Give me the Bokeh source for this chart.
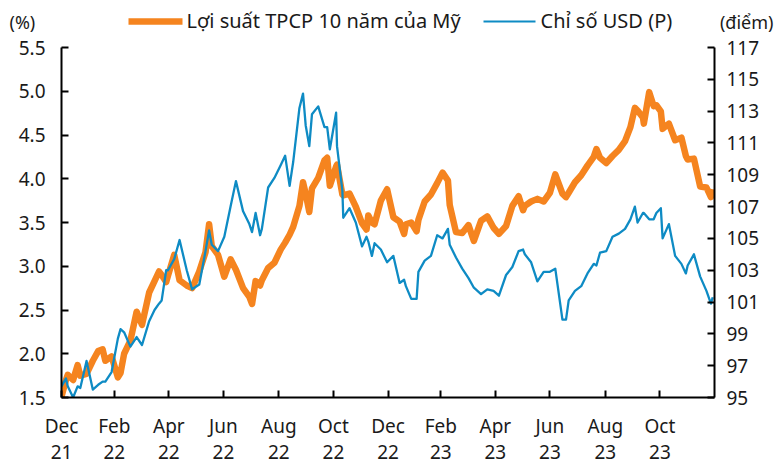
import pandas as pd
from bokeh.plotting import figure
from bokeh.layouts import column
from bokeh.models import Range1d, LinearAxis, FixedTicker, ColumnDataSource
from bokeh.core.properties import value
from bokeh.embed import file_html
from bokeh.resources import INLINE

dates = [
    "2021-12-31", "2022-01-05", "2022-01-07", "2022-01-13", "2022-01-18", "2022-01-21",
    "2022-01-28", "2022-02-04", "2022-02-10", "2022-02-15", "2022-02-18", "2022-02-25",
    "2022-03-04", "2022-03-07", "2022-03-11", "2022-03-18", "2022-03-25", "2022-03-31",
    "2022-04-08", "2022-04-14", "2022-04-19", "2022-04-22", "2022-04-27", "2022-04-29",
    "2022-05-06", "2022-05-12", "2022-05-20", "2022-05-26", "2022-06-03", "2022-06-10",
    "2022-06-14", "2022-06-17", "2022-06-24", "2022-07-01", "2022-07-08", "2022-07-14",
    "2022-07-22", "2022-07-29", "2022-08-01", "2022-08-05", "2022-08-10", "2022-08-12",
    "2022-08-19", "2022-08-26", "2022-09-02", "2022-09-07", "2022-09-12", "2022-09-16",
    "2022-09-23", "2022-09-27", "2022-09-30", "2022-10-04", "2022-10-07", "2022-10-14",
    "2022-10-21", "2022-10-24", "2022-10-27", "2022-11-03", "2022-11-04", "2022-11-10",
    "2022-11-11", "2022-11-18", "2022-11-25", "2022-12-02", "2022-12-07", "2022-12-09",
    "2022-12-13", "2022-12-16", "2022-12-23", "2022-12-30", "2023-01-06", "2023-01-13",
    "2023-01-18", "2023-01-20", "2023-01-26", "2023-02-01", "2023-02-03", "2023-02-10",
    "2023-02-17", "2023-02-24", "2023-03-02", "2023-03-08", "2023-03-10", "2023-03-17",
    "2023-03-24", "2023-03-31", "2023-04-06", "2023-04-14", "2023-04-21", "2023-04-28",
    "2023-05-04", "2023-05-12", "2023-05-19", "2023-05-26", "2023-05-31", "2023-06-02",
    "2023-06-09", "2023-06-16", "2023-06-23", "2023-06-30", "2023-07-06", "2023-07-14",
    "2023-07-18", "2023-07-21", "2023-07-28", "2023-08-04", "2023-08-11", "2023-08-18",
    "2023-08-21", "2023-08-25", "2023-09-01", "2023-09-08", "2023-09-15", "2023-09-22",
    "2023-09-28", "2023-10-03", "2023-10-06", "2023-10-12", "2023-10-13", "2023-10-19",
    "2023-10-24", "2023-10-27", "2023-11-01", "2023-11-03", "2023-11-10", "2023-11-17",
    "2023-11-24", "2023-11-29", "2023-12-01", "2023-12-08", "2023-12-15", "2023-12-22",
    "2023-12-27", "2023-12-29",
]

yield_10y = [
    1.51, 1.70, 1.76, 1.70, 1.87, 1.75,
    1.77, 1.92, 2.03, 2.05, 1.92, 1.97,
    1.73, 1.78, 2.00, 2.15, 2.48, 2.33,
    2.70, 2.83, 2.94, 2.90, 2.82, 2.89,
    3.13, 2.84, 2.78, 2.75, 2.94, 3.16,
    3.48, 3.23, 3.13, 2.88, 3.08, 2.96,
    2.75, 2.65, 2.57, 2.83, 2.78, 2.84,
    2.98, 3.04, 3.19, 3.27, 3.36, 3.45,
    3.69, 3.96, 3.83, 3.62, 3.89, 4.01,
    4.21, 4.24, 3.92, 4.14, 4.16, 3.82,
    3.81, 3.83, 3.68, 3.49, 3.42, 3.58,
    3.50, 3.48, 3.75, 3.88, 3.56, 3.51,
    3.37, 3.48, 3.50, 3.40, 3.53, 3.74,
    3.82, 3.95, 4.07, 3.98, 3.70, 3.39,
    3.38, 3.47, 3.29, 3.52, 3.57, 3.44,
    3.37, 3.46, 3.69, 3.80, 3.64, 3.69,
    3.74, 3.77, 3.74, 3.84, 4.05, 3.83,
    3.79, 3.84, 3.96, 4.04, 4.15, 4.25,
    4.34, 4.24, 4.18, 4.26, 4.33, 4.43,
    4.59, 4.81, 4.78, 4.70, 4.63, 4.99,
    4.83, 4.84, 4.77, 4.57, 4.63, 4.44,
    4.47, 4.26, 4.22, 4.23, 3.91, 3.90,
    3.79, 3.88,
]

usd_index = [
    95.7, 96.2, 95.7, 95.0, 95.7, 95.6,
    97.3, 95.5, 95.8, 96.0, 96.0, 96.6,
    98.7, 99.3, 99.1, 98.2, 98.8, 98.3,
    99.8, 100.5, 100.9, 101.1, 103.0, 103.0,
    103.7, 104.9, 103.0, 101.8, 102.1, 104.2,
    105.5, 104.6, 104.2, 105.1, 107.0, 108.6,
    106.7, 105.9, 105.4, 106.6, 105.2, 105.6,
    108.2, 108.8, 109.6, 110.2, 108.3, 109.8,
    113.2, 114.1, 112.1, 110.8, 112.8, 113.3,
    112.0, 112.0, 110.6, 112.9, 110.8, 108.0,
    106.3, 106.9, 106.0, 104.5, 105.1, 104.8,
    103.9, 104.7, 104.3, 103.5, 103.9, 102.2,
    102.4, 102.0, 101.2, 101.2, 102.9, 103.6,
    103.9, 105.2, 105.0, 105.6, 104.6, 103.8,
    103.1, 102.5, 101.9, 101.5, 101.8, 101.7,
    101.4, 102.7, 103.2, 104.2, 104.3, 104.0,
    103.5, 102.3, 102.9, 102.9, 103.1, 99.9,
    99.9, 101.1, 101.7, 102.0, 102.8, 103.4,
    103.3, 104.1, 104.2, 105.1, 105.3, 105.6,
    106.2, 107.0, 106.0, 106.6, 106.6, 106.2,
    106.2, 106.6, 106.9, 105.0, 105.9, 103.9,
    103.4, 102.8, 103.3, 104.0, 102.6, 101.7,
    100.9, 101.3,
]

tick_dates = ["2021-12-31", "2022-02-28", "2022-04-30", "2022-06-30", "2022-08-31",
              "2022-10-31", "2022-12-31", "2023-02-28", "2023-04-30", "2023-06-30",
              "2023-08-31", "2023-10-31"]
tick_labels = ["Dec\n21", "Feb\n22", "Apr\n22", "Jun\n22", "Aug\n22", "Oct\n22",
               "Dec\n22", "Feb\n23", "Apr\n23", "Jun\n23", "Aug\n23", "Oct\n23"]

left_ticks = [1.5, 2.0, 2.5, 3.0, 3.5, 4.0, 4.5, 5.0, 5.5]
right_ticks = [95, 97, 99, 101, 103, 105, 107, 109, 111, 113, 115, 117]

series_names = ["Lợi suất TPCP 10 năm của Mỹ", "Chỉ số USD (P)"]
unit_labels = ["(%)", "(điểm)"]

ORANGE = "#F5841F"
BLUE = "#0E8BC4"
FONT = "Noto Sans"
TXT = "#1a1a1a"
W = 777
HEAD_H = 34

def ms(d):
    return pd.Timestamp(d).value / 1e6

# ---------- header (legend + unit labels), pixel coordinates ----------
head = figure(width=W, height=HEAD_H, output_backend="svg", toolbar_location=None,
              x_range=Range1d(0, W), y_range=Range1d(HEAD_H, 0),
              min_border=0, min_border_left=0, min_border_right=0,
              min_border_top=0, min_border_bottom=0)
if "frame_align" in head.properties():
    head.frame_align = False
head.axis.visible = False
head.grid.visible = False
head.outline_line_color = None

head.segment(x0=[128], y0=[21], x1=[182], y1=[21], line_color=ORANGE, line_width=6.5)
head.segment(x0=[483], y0=[21], x1=[535], y1=[21], line_color=BLUE, line_width=2.2)
head.text(x=[186, 540], y=[20, 20], text=series_names, text_font=value(FONT),
          text_font_size="20px", text_color=TXT, text_baseline="middle",
          text_align="left")
head.text(x=[9], y=[21.5], text=[unit_labels[0]], text_font=value(FONT),
          text_font_size="18px", text_color=TXT, text_baseline="middle",
          text_align="left")
head.text(x=[773], y=[21.5], text=[unit_labels[1]], text_font=value(FONT),
          text_font_size="18px", text_color=TXT, text_baseline="middle",
          text_align="right")

# ---------- main chart ----------
src = ColumnDataSource(dict(x=pd.to_datetime(dates), y=yield_10y, u=usd_index))

p = figure(width=W, height=467 - HEAD_H, output_backend="svg", toolbar_location=None,
           x_axis_type="datetime",
           x_range=Range1d(ms("2021-12-31"), ms("2023-12-31")),
           y_range=Range1d(1.5, 5.5),
           min_border_left=61, min_border_right=63, min_border_top=47 - HEAD_H,
           min_border_bottom=67)
if "frame_align" in p.properties():
    p.frame_align = False
p.extra_y_ranges = {"usd": Range1d(95, 117)}
p.outline_line_color = None
p.grid.visible = False

p.line("x", "y", source=src, line_color=ORANGE, line_width=6.5, line_join="round")
p.line("x", "u", source=src, y_range_name="usd", line_color=BLUE, line_width=2.3,
       line_join="round")

def style_axis(ax):
    ax.axis_line_color = "black"
    ax.axis_line_width = 2
    ax.major_tick_line_color = "black"
    ax.major_tick_line_width = 2
    ax.major_tick_in = 7
    ax.major_tick_out = 0
    ax.minor_tick_line_color = None
    ax.major_label_text_font = FONT
    ax.major_label_text_font_size = "19px"
    ax.major_label_text_color = TXT

xa = p.xaxis[0]
xa.ticker = FixedTicker(ticks=[ms(d) for d in tick_dates])
xa.major_label_overrides = {ms(d): lab for d, lab in zip(tick_dates, tick_labels)}
style_axis(xa)
xa.major_label_standoff = 15
xa.major_label_text_line_height = 1.0

ya = p.yaxis[0]
ya.ticker = FixedTicker(ticks=left_ticks)
ya.major_label_overrides = {v: f"{v:.1f}" for v in left_ticks}
style_axis(ya)
ya.major_label_standoff = 16

ra = LinearAxis(y_range_name="usd", ticker=FixedTicker(ticks=right_ticks))
style_axis(ra)
ra.major_label_standoff = 12
p.add_layout(ra, "right")

layout = column(head, p, spacing=0)
open("out.html", "w").write(file_html(layout, INLINE))
